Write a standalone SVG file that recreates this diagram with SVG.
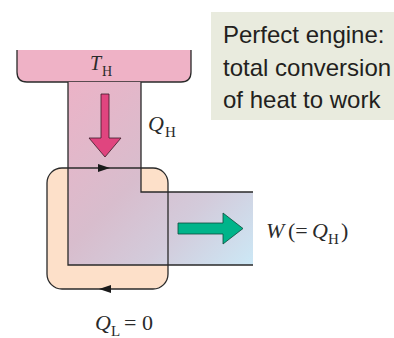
<svg xmlns="http://www.w3.org/2000/svg" width="394" height="338" viewBox="0 0 394 338">
<defs>
<linearGradient id="chan" gradientUnits="userSpaceOnUse" x1="68" y1="82" x2="253" y2="265">
<stop offset="0" stop-color="#ecb3c7"/>
<stop offset="0.45" stop-color="#d8bdcd"/>
<stop offset="0.7" stop-color="#d3cbdb"/>
<stop offset="1" stop-color="#cce8f6"/>
</linearGradient>
<style>
.ol{fill:none;stroke:#2a2a2a;stroke-width:1.3}
.serif{font-family:"Liberation Serif","DejaVu Serif",serif;fill:#2a2a2a}
.it{font-style:italic}
.sans{font-family:"Liberation Sans",Arial,sans-serif;fill:#231f20;font-size:24px}
.head{fill:#1a1a1a}
</style>
</defs>
<rect width="394" height="338" fill="#ffffff"/>
<g id="note">
<rect x="211" y="12" width="183" height="108" fill="#e9ebde"/>
<text class="sans" x="223" y="43">Perfect engine:</text>
<text class="sans" x="223" y="76">total conversion</text>
<text class="sans" x="223" y="108">of heat to work</text>
</g>
<g id="hot-reservoir">
<path d="M17,50 V72 Q17,82 27,82 H181 Q191,82 191,72 V50 Z" fill="#efb2c6"/>
<path class="ol" d="M17,50 V72 Q17,82 27,82 H181 Q191,82 191,72 V50"/>
<text class="serif it" x="90" y="70" font-size="20">T</text>
<text class="serif" x="102" y="76" font-size="14">H</text>
</g>
<g id="engine">
<rect x="47" y="168" width="121" height="121" rx="15" fill="#fde0c9"/>
</g>
<g id="connectors">
<path id="channel" d="M68,82 V265 H253 V192 H141 V82 Z" fill="url(#chan)"/>
<path class="ol" d="M68,82 V265 H253 M253,192 H141 V82"/>
<rect class="ol" x="47" y="168" width="121" height="121" rx="15"/>
<path class="head" d="M98,164 L110,168 L98,172 Z"/>
<path class="head" d="M111,285 L99,289 L111,293 Z"/>
<path d="M101,94 H109 V138 H121 L105,157 L89,138 H101 Z" fill="#e0457f" stroke="#3a1a28" stroke-width="0.8"/>
<path d="M178,223 H223 V213 L243,228.5 L223,244 V234 H178 Z" fill="#00b48a" stroke="#0d4a3a" stroke-width="0.8"/>
</g>
<g id="labels">
<text class="serif it" x="148" y="131" font-size="22">Q</text>
<text class="serif" x="165" y="137" font-size="15">H</text>
<text class="serif it" x="266" y="238" font-size="22">W</text>
<text class="serif" x="288" y="238" font-size="22">(=</text>
<text class="serif it" x="312" y="238" font-size="22">Q</text>
<text class="serif" x="328" y="244" font-size="15">H</text>
<text class="serif" x="341" y="238" font-size="22">)</text>
<text class="serif it" x="95" y="330" font-size="22">Q</text>
<text class="serif" x="111" y="336" font-size="15">L</text>
<text class="serif" x="124" y="330" font-size="22">= 0</text>
</g>
</svg>
